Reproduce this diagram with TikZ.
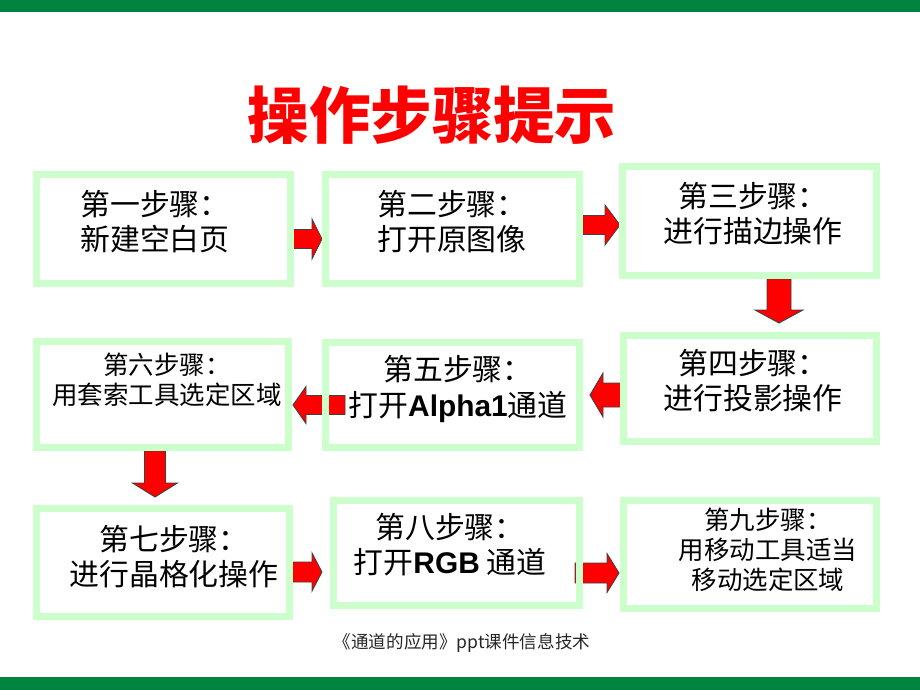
\documentclass[tikz,border=0pt]{standalone}
\usepackage{fontspec}
\setmainfont{Noto Sans CJK SC}
\newfontfamily\latinb{Liberation Sans}
\usetikzlibrary{positioning}

\definecolor{bandgreen}{RGB}{0,132,62}
\definecolor{boxgreen}{RGB}{204,255,204}
\definecolor{titlered}{RGB}{255,0,0}

\tikzset{
  stepbox/.style={draw=boxgreen, line width=0.14cm, inner sep=0pt},
  steptext/.style={align=center, inner sep=0pt, font=\fontsize{17}{20}\selectfont},
  smalltext/.style={align=center, inner sep=0pt, font=\fontsize{14.5}{17}\selectfont},
  arrowbody/.style={fill=red, draw=black!75, line width=0.5pt, line join=miter},
  pics/blockarrow/.style n args={4}{% length, half shaft, half head, head length
    code={
      \draw[arrowbody] (0,-#2) -- ({#1-#4},-#2) -- ({#1-#4},-#3) -- (#1,0)
        -- ({#1-#4},#3) -- ({#1-#4},#2) -- (0,#2) -- cycle;
    }
  }
}

\begin{document}
\begin{tikzpicture}[x=0.02cm, y=-0.02cm]
  \useasboundingbox (0,0) rectangle (920,690);

  % Green bands
  \fill[bandgreen] (0,0) rectangle (920,12);
  \fill[bandgreen] (0,677) rectangle (920,690);

  % Title
  \node[text=titlered, font=\fontsize{35}{40}\selectfont\bfseries] (title) at (432,115) {操作步骤提示};

  % Arrows (under the boxes)
  \coordinate (a12) at (290,239);
  \coordinate (a23) at (583,225);
  \coordinate (a34) at (779,279);
  \coordinate (a45) at (626,395);
  \coordinate (a56) at (345,405);
  \coordinate (a67) at (155,451);
  \coordinate (a78) at (291,572);
  \coordinate (a89) at (575,573);
  \pic at (a12) {blockarrow={32}{9.5}{20}{10}};
  \pic at (a23) {blockarrow={37}{9.5}{20}{15}};
  \pic[rotate=-90] at (a34) {blockarrow={44}{12}{24}{13}};
  \pic[rotate=180] at (a45) {blockarrow={36}{12}{22}{13}};
  \pic[rotate=180] at (a56) {blockarrow={52}{9.5}{18.5}{13}};
  \pic[rotate=-90] at (a67) {blockarrow={46}{10.5}{22.5}{14}};
  \pic at (a78) {blockarrow={31}{10}{19}{10}};
  \pic at (a89) {blockarrow={44}{10}{19.5}{12}};

  % Step boxes
  \node[stepbox, minimum width=5.08cm, minimum height=2.18cm] (s1) at (163.5,229) {};
  \node[stepbox, minimum width=5.08cm, minimum height=2.18cm] (s2) at (452.5,229) {};
  \node[stepbox, minimum width=5.08cm, minimum height=2.18cm] (s3) at (749.5,221) {};
  \node[stepbox, minimum width=5.06cm, minimum height=2.12cm] (s4) at (750,388.5) {};
  \node[stepbox, minimum width=5.08cm, minimum height=2.10cm] (s5) at (452.5,395) {};
  \node[stepbox, minimum width=5.04cm, minimum height=2.12cm] (s6) at (162.5,394.5) {};
  \node[stepbox, minimum width=5.06cm, minimum height=2.16cm] (s7) at (163,562.5) {};
  \node[stepbox, minimum width=4.92cm, minimum height=2.10cm] (s8) at (456.5,553) {};
  \node[stepbox, minimum width=5.06cm, minimum height=2.16cm] (s9) at (750,554.5) {};

  % Step texts
  \node[steptext] (t1) at (155,222) {第一步骤：\\新建空白页};
  \node[steptext] (t2) at (452,222) {第二步骤：\\打开原图像};
  \node[steptext] (t3) at (753,214) {第三步骤：\\进行描边操作};
  \node[steptext] (t4) at (753,381) {第四步骤：\\进行投影操作};
  \node[steptext] (t5) at (458,389) {第五步骤：\\打开{\latinb\bfseries Alpha1}通道};
  \node[smalltext] (t6) at (167,380) {第六步骤：\\用套索工具选定区域};
  \node[steptext] (t7) at (174,557) {第七步骤：\\进行晶格化操作};
  \node[steptext] (t8) at (450,545) {第八步骤：\\打开{\latinb\bfseries RGB} 通道};
  \node[smalltext] (t9) at (768,550) {第九步骤：\\用移动工具适当\\移动选定区域};

  % Footer
  \node[text=black!85, font=\fontsize{10}{12}\selectfont] (foot) at (462,643) {《通道的应用》ppt课件信息技术};
\end{tikzpicture}
\end{document}
